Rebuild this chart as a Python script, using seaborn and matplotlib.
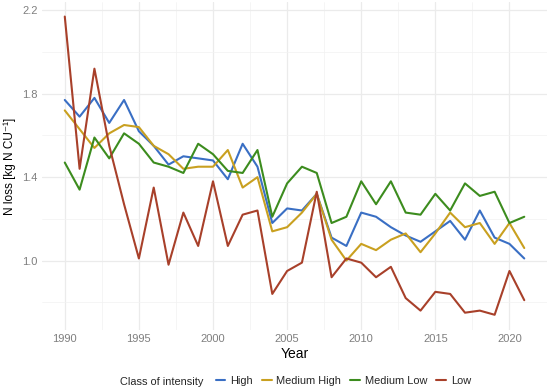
import matplotlib
matplotlib.use("Agg")
import matplotlib.pyplot as plt
from matplotlib.ticker import MultipleLocator
from matplotlib.lines import Line2D
import pandas as pd
import seaborn as sns

years = list(range(1990, 2022))

high = [1.77, 1.69, 1.78, 1.66, 1.77, 1.62, 1.55, 1.46, 1.50, 1.49, 1.48, 1.39,
        1.56, 1.45, 1.18, 1.25, 1.24, 1.32, 1.11, 1.07, 1.23, 1.21, 1.16, 1.12,
        1.09, 1.14, 1.19, 1.10, 1.24, 1.11, 1.08, 1.01]
medium_high = [1.72, 1.63, 1.54, 1.61, 1.65, 1.64, 1.55, 1.51, 1.44, 1.45, 1.45, 1.53,
               1.35, 1.40, 1.14, 1.16, 1.23, 1.32, 1.10, 1.00, 1.08, 1.05, 1.10, 1.13,
               1.04, 1.13, 1.23, 1.16, 1.18, 1.08, 1.18, 1.06]
medium_low = [1.47, 1.34, 1.59, 1.49, 1.61, 1.56, 1.47, 1.45, 1.42, 1.56, 1.51, 1.43,
              1.42, 1.53, 1.21, 1.37, 1.45, 1.42, 1.18, 1.21, 1.38, 1.27, 1.38, 1.23,
              1.22, 1.32, 1.24, 1.37, 1.31, 1.33, 1.18, 1.21]
low = [2.17, 1.44, 1.92, 1.55, 1.27, 1.01, 1.35, 0.98, 1.23, 1.07, 1.38, 1.07,
       1.22, 1.24, 0.84, 0.95, 0.99, 1.33, 0.92, 1.01, 0.99, 0.92, 0.97, 0.82,
       0.76, 0.85, 0.84, 0.75, 0.76, 0.74, 0.95, 0.81]

classes = ["High", "Medium High", "Medium Low", "Low"]
colors = ["#3A6FC4", "#C9A020", "#3C8C1E", "#A8402A"]

df = pd.DataFrame({
    "Year": years * 4,
    "N loss": high + medium_high + medium_low + low,
    "Class of intensity": [c for c in classes for _ in years],
})

sns.set_theme(style="white")
plt.rcParams["font.family"] = ["Liberation Sans", "DejaVu Sans"]

fig = plt.figure(figsize=(5.5, 3.91), dpi=100)
ax = fig.add_axes([0.076, 0.156, 0.919, 0.839])

sns.lineplot(data=df, x="Year", y="N loss", hue="Class of intensity",
             hue_order=classes, palette=colors, linewidth=1.5, ax=ax, legend=False)

ax.set_xlim(1988.45, 2022.55)
ax.set_ylim(0.667, 2.24)
ax.xaxis.set_major_locator(MultipleLocator(5))
ax.xaxis.set_minor_locator(MultipleLocator(2.5))
ax.set_yticks([1.0, 1.4, 1.8, 2.2])
ax.set_yticks([0.8, 1.2, 1.6, 2.0], minor=True)
ax.set_yticklabels(["1.0", "1.4", "1.8", "2.2"])

ax.grid(which="major", color="#EBEBEB", linewidth=0.9)
ax.grid(which="minor", color="#F2F2F2", linewidth=0.5)
for s in ax.spines.values():
    s.set_visible(False)
ax.tick_params(which="both", length=0, labelsize=8, labelcolor="#7F7F7F", pad=3)

ax.set_xlabel("Year", fontsize=10, color="black", labelpad=2)
ax.set_ylabel("N loss [kg N CU\u207b\u00b9]", fontsize=8.5, color="black")
ax.yaxis.set_label_coords(-0.052, 0.5)

# legend at bottom, title inline
fig.text(0.218, 0.023, "Class of intensity", fontsize=7.9, ha="left", va="center")
handles = [Line2D([0], [0], color=c, linewidth=1.5) for c in colors]
fig.legend(handles, classes, loc="center left", bbox_to_anchor=(0.392, 0.025),
           ncol=4, frameon=False, fontsize=7.9, handlelength=0.9,
           handletextpad=0.4, columnspacing=0.85, borderaxespad=0, borderpad=0)

fig.savefig("out.png", dpi=100)
